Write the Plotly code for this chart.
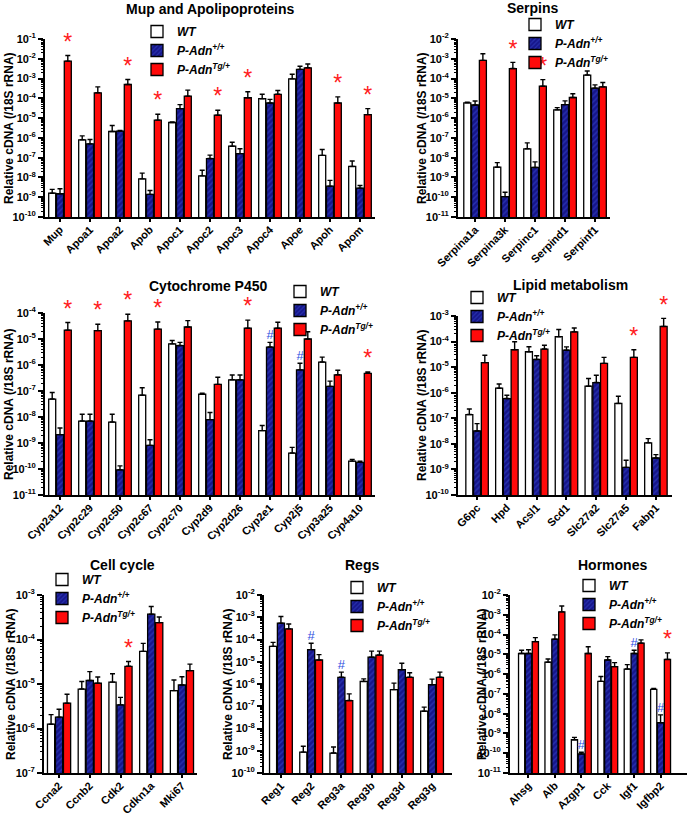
import plotly.graph_objects as go

W, H = 700, 820
FONT = "Liberation Sans, Arial, sans-serif"

# ---------------- data ----------------
series_names = ["<i>WT</i>", "<i>P-Adn<sup>+/+</sup></i>", "<i>P-Adn<sup>Tg/+</sup></i>"]

# Mup and Apolipoproteins
mup_genes = ["Mup", "Apoa1", "Apoa2", "Apob", "Apoc1", "Apoc2", "Apoc3", "Apoc4", "Apoe", "Apoh", "Apom"]
mup_wt = [1.6e-9, 8e-7, 2.1e-6, 8.5e-9, 6e-6, 1.2e-8, 3.8e-7, 9.6e-5, 9.6e-4, 1.3e-7, 3.6e-8]
mup_wt_sem = [0.9e-9, 4.6e-7, 2.1e-6, 8e-9, 0.4e-6, 1.1e-8, 2.2e-7, 6.5e-5, 7e-4, 1.3e-7, 3.2e-8]
mup_padn = [1.5e-9, 5e-7, 2.2e-6, 1.4e-9, 3e-5, 9e-8, 1.6e-7, 5.8e-5, 2.9e-3, 3.6e-9, 2.9e-9]
mup_padn_sem = [1.2e-9, 3.3e-7, 0.2e-6, 0.8e-9, 1.8e-5, 4.5e-8, 1.2e-7, 3.1e-5, 1.3e-3, 3.5e-9, 1e-9]
mup_tg = [7.6e-3, 1.9e-4, 5e-4, 7.9e-6, 1.3e-4, 1.4e-5, 1.07e-4, 1.6e-4, 3.5e-3, 5.8e-5, 1.5e-5]
mup_tg_sem = [7e-3, 1.9e-4, 3.9e-4, 7.9e-6, 1.3e-4, 1.1e-5, 1.1e-4, 0.9e-4, 1.9e-3, 6e-5, 1.5e-5]
mup_star = ["Mup", "Apoa2", "Apob", "Apoc2", "Apoc3", "Apoh", "Apom"]
mup_hash = []

# Serpins
serp_genes = ["Serpina1a", "Serpina3k", "Serpinc1", "Serpind1", "Serpinf1"]
serp_wt = [5.9e-6, 3.3e-9, 2.8e-8, 2.6e-6, 1.5e-4]
serp_wt_sem = [0.5e-6, 2.3e-9, 2.8e-8, 0.8e-6, 0.9e-4]
serp_padn = [4.6e-6, 1.07e-10, 3.2e-9, 4.8e-6, 3.3e-5]
serp_padn_sem = [2.7e-6, 0.7e-10, 2.9e-9, 2.6e-6, 1.5e-5]
serp_tg = [8.3e-4, 3.2e-4, 4.1e-5, 1.1e-5, 3.8e-5]
serp_tg_sem = [9.6e-4, 3.4e-4, 4.7e-5, 0.6e-5, 2.5e-5]
serp_star = ["Serpina3k", "Serpinc1"]
serp_hash = []

# Cytochrome P450
cyp_genes = ["Cyp2a12", "Cyp2c29", "Cyp2c50", "Cyp2c67", "Cyp2c70", "Cyp2d9", "Cyp2d26", "Cyp2e1", "Cyp2j5", "Cyp3a25", "Cyp4a10"]
cyp_wt = [4.9e-8, 7e-9, 6.4e-9, 6.9e-8, 6.5e-6, 7.5e-8, 2.7e-7, 3e-9, 4.1e-10, 1.3e-6, 2e-10]
cyp_wt_sem = [3.8e-8, 5.7e-9, 6.4e-9, 6.4e-8, 2.3e-6, 0.8e-8, 1.4e-7, 1.7e-9, 2.7e-10, 0.7e-6, 0.35e-10]
cyp_padn = [2.1e-9, 7e-9, 9.3e-11, 8.1e-10, 5.6e-6, 7.9e-9, 2.7e-7, 4.9e-6, 6.5e-7, 1.5e-7, 1.8e-10]
cyp_padn_sem = [1.7e-9, 5.7e-9, 3.9e-11, 5.3e-10, 1.8e-6, 6.9e-9, 1.4e-7, 2.5e-6, 5.1e-7, 0.9e-7, 0.2e-10]
cyp_tg = [2.2e-5, 2.1e-5, 5e-5, 2.4e-5, 2.9e-5, 1.8e-7, 2.6e-5, 2.6e-5, 1.0e-5, 4.2e-7, 4.8e-7]
cyp_tg_sem = [2.1e-5, 1.6e-5, 4e-5, 2.1e-5, 2.2e-5, 1.6e-7, 2.7e-5, 1.8e-5, 0.9e-5, 2.1e-7, 0.6e-7]
cyp_star = ["Cyp2a12", "Cyp2c29", "Cyp2c50", "Cyp2c67", "Cyp2d26", "Cyp4a10"]
cyp_hash = ["Cyp2e1", "Cyp2j5"]

# Lipid metabolism
lip_genes = ["G6pc", "Hpd", "Acsl1", "Scd1", "Slc27a2", "Slc27a5", "Fabp1"]
lip_wt = [1.4e-7, 1.5e-6, 4e-5, 1.55e-4, 1.8e-6, 3.8e-7, 1.1e-8]
lip_wt_sem = [0.9e-7, 0.7e-6, 2.3e-5, 1.4e-4, 1.8e-6, 3.5e-7, 0.5e-8]
lip_padn = [3.2e-8, 5.9e-7, 2e-5, 4.6e-5, 2.5e-6, 1.2e-9, 2.8e-9]
lip_padn_sem = [3e-8, 2.1e-7, 0.8e-5, 1.6e-5, 2.3e-6, 1.1e-9, 1e-9]
lip_tg = [1.5e-5, 4.8e-5, 5.1e-5, 2.4e-4, 1.4e-5, 2.4e-5, 3.9e-4]
lip_tg_sem = [1.4e-5, 5e-5, 2.1e-5, 1e-4, 1e-5, 2.4e-5, 4.2e-4]
lip_star = ["Slc27a5", "Fabp1"]
lip_hash = []

# Cell cycle
cc_genes = ["Ccna2", "Ccnb2", "Cdk2", "Cdkn1a", "Mki67"]
cc_wt = [1.25e-6, 7.7e-6, 1.1e-5, 5.4e-5, 7.1e-6]
cc_wt_sem = [0.8e-6, 3.7e-6, 0.6e-5, 2.8e-5, 5.2e-6]
cc_padn = [1.8e-6, 1.2e-5, 3.4e-6, 3.7e-4, 9.5e-6]
cc_padn_sem = [0.9e-6, 0.7e-5, 1.6e-6, 1.8e-4, 5e-6]
cc_tg = [3.7e-6, 1.04e-5, 2.5e-5, 2.4e-4, 2e-5]
cc_tg_sem = [2.2e-6, 0.4e-5, 0.7e-5, 0.8e-4, 0.8e-5]
cc_star = ["Cdk2"]
cc_hash = []

# Regs
reg_genes = ["Reg1", "Reg2", "Reg3a", "Reg3b", "Reg3d", "Reg3g"]
reg_wt = [4.9e-5, 8.7e-10, 7.9e-10, 1.3e-6, 5.6e-7, 6e-8]
reg_wt_sem = [2.5e-5, 7.3e-10, 6.9e-10, 0.4e-6, 5.3e-7, 3.1e-8]
reg_padn = [5.4e-4, 3.5e-5, 2e-6, 1.6e-5, 4.4e-6, 9.3e-7]
reg_padn_sem = [5.4e-4, 3.3e-5, 1.4e-6, 1.4e-5, 4.2e-6, 7.3e-7]
reg_tg = [3e-4, 1.2e-5, 1.8e-7, 2e-5, 2e-6, 2e-6]
reg_tg_sem = [2e-4, 0.9e-5, 1.8e-7, 1e-5, 1.2e-6, 1.4e-6]
reg_star = []
reg_hash = ["Reg2", "Reg3a"]

# Hormones
hor_genes = ["Ahsg", "Alb", "Azgp1", "Cck", "Igf1", "Igfbp2"]
hor_wt = [1.1e-5, 4e-6, 4.8e-10, 4.3e-7, 1.8e-6, 1.7e-7]
hor_wt_sem = [0.5e-5, 1.8e-6, 1.5e-10, 3.3e-7, 1.2e-6, 0.2e-7]
hor_padn = [1.1e-5, 5.8e-5, 9.2e-11, 5.2e-6, 1.1e-5, 3.5e-9]
hor_padn_sem = [0.6e-5, 3.8e-5, 2e-11, 2.5e-6, 0.5e-5, 5.2e-9]
hor_tg = [4.4e-5, 1.4e-3, 1.1e-5, 2.4e-6, 3.7e-5, 5.5e-6]
hor_tg_sem = [2.6e-5, 1.4e-3, 1.3e-5, 1.4e-6, 1.7e-5, 6.3e-6]
hor_star = ["Igfbp2"]
hor_hash = ["Azgp1", "Igf1", "Igfbp2"]

# ---------------- layout geometry (window pixels) ----------------
panels = [
    dict(title="Mup and Apolipoproteins", genes=mup_genes,
         vals=[(mup_wt, mup_wt_sem), (mup_padn, mup_padn_sem), (mup_tg, mup_tg_sem)],
         star=mup_star, hash=mup_hash,
         xdom=(45, 375), ydom=(39, 217), yr=(-10, -1), xr=(-0.5, 10.5),
         leg=(137, 17), ttl=(210, 9), ytl=(9, 128)),
    dict(title="Serpins", genes=serp_genes,
         vals=[(serp_wt, serp_wt_sem), (serp_padn, serp_padn_sem), (serp_tg, serp_tg_sem)],
         star=serp_star, hash=serp_hash,
         xdom=(458, 610), ydom=(39, 217), yr=(-11, -2), xr=(-0.57, 4.5),
         leg=(515, 10), ttl=(533, 8), ytl=(422, 128)),
    dict(title="Cytochrome P450", genes=cyp_genes,
         vals=[(cyp_wt, cyp_wt_sem), (cyp_padn, cyp_padn_sem), (cyp_tg, cyp_tg_sem)],
         star=cyp_star, hash=cyp_hash,
         xdom=(45, 375), ydom=(313, 495), yr=(-11, -4), xr=(-0.5, 10.5),
         leg=(280, 277), ttl=(208, 286), ytl=(9, 404)),
    dict(title="Lipid metabolism", genes=lip_genes,
         vals=[(lip_wt, lip_wt_sem), (lip_padn, lip_padn_sem), (lip_tg, lip_tg_sem)],
         star=lip_star, hash=lip_hash,
         xdom=(458, 672), ydom=(316, 495), yr=(-10, -3), xr=(-0.64, 6.54),
         leg=(457, 283), ttl=(570, 285), ytl=(422, 405)),
    dict(title="Cell cycle", genes=cc_genes,
         vals=[(cc_wt, cc_wt_sem), (cc_padn, cc_padn_sem), (cc_tg, cc_tg_sem)],
         star=cc_star, hash=cc_hash,
         xdom=(44, 197), ydom=(595, 773), yr=(-7, -3), xr=(-0.49, 4.49),
         leg=(42, 565), ttl=(122, 565), ytl=(11, 684)),
    dict(title="Regs", genes=reg_genes,
         vals=[(reg_wt, reg_wt_sem), (reg_padn, reg_padn_sem), (reg_tg, reg_tg_sem)],
         star=reg_star, hash=reg_hash,
         xdom=(264, 452), ydom=(595, 773), yr=(-10, -2), xr=(-0.56, 5.66),
         leg=(337, 573), ttl=(362, 565), ytl=(228, 684)),
    dict(title="Hormones", genes=hor_genes,
         vals=[(hor_wt, hor_wt_sem), (hor_padn, hor_padn_sem), (hor_tg, hor_tg_sem)],
         star=hor_star, hash=hor_hash,
         xdom=(510, 687), ydom=(595, 773), yr=(-11, -2), xr=(-0.7, 6.0),
         leg=(569, 571), ttl=(612, 565), ytl=(482, 684)),
]


def fx(px):
    return px / W


def fy(py):
    return 1 - py / H


BLUE_BG = "#16168a"
BLUE_FG = "#3a4ed6"
RED = "#ff0a0a"
styles = [
    dict(color="white", line=dict(color="black", width=1.3)),
    dict(color=BLUE_BG, line=dict(color="black", width=1.3),
         pattern=dict(shape="/", bgcolor=BLUE_BG, fgcolor=BLUE_FG, size=4, solidity=0.35)),
    dict(color=RED, line=dict(color="black", width=1.3)),
]
offsets = [-0.26, 0.0, 0.26]

fig = go.Figure()
annotations = []
layout_upd = {}

for k, p in enumerate(panels, start=1):
    sfx = "" if k == 1 else str(k)
    xa, ya = "x" + sfx, "y" + sfx
    leg = "legend" + sfx
    genes = p["genes"]
    n = len(genes)
    xs = list(range(n))
    for s, ((vals, sems), st) in enumerate(zip(p["vals"], styles)):
        fig.add_trace(go.Bar(
            x=xs, y=vals, name=series_names[s], marker=st,
            offsetgroup=str(s), legend=leg, xaxis=xa, yaxis=ya,
            error_y=dict(type="data", array=sems, arrayminus=[0] * n, symmetric=False,
                         color="black", thickness=1.4, width=2.5),
        ))
    pa_v, pa_s = p["vals"][1]
    tg_v, tg_s = p["vals"][2]
    if p["star"]:
        idx = [genes.index(g) for g in p["star"]]
        fig.add_trace(go.Scatter(
            x=[i + offsets[2] for i in idx], y=[tg_v[i] + tg_s[i] for i in idx],
            mode="text", text=["*"] * len(idx), textposition="top center",
            textfont=dict(family=FONT, size=23, color="#ff2020"),
            showlegend=False, hoverinfo="skip", cliponaxis=False, xaxis=xa, yaxis=ya))
    if p["hash"]:
        idx = [genes.index(g) for g in p["hash"]]
        fig.add_trace(go.Scatter(
            x=[i + offsets[1] for i in idx], y=[pa_v[i] + pa_s[i] for i in idx],
            mode="text", text=["#"] * len(idx), textposition="top center",
            textfont=dict(family=FONT, size=13, color="#2f4fe0"),
            showlegend=False, hoverinfo="skip", cliponaxis=False, xaxis=xa, yaxis=ya))

    lo, hi = p["yr"]
    major = [10.0 ** e for e in range(lo, hi + 1)]
    minor = [m * 10.0 ** e for e in range(lo, hi) for m in range(2, 10)]
    layout_upd["xaxis" + sfx] = dict(
        domain=[fx(p["xdom"][0]), fx(p["xdom"][1])], anchor=ya,
        range=list(p["xr"]), tickmode="array", tickvals=xs, ticktext=genes,
        tickangle=-45, tickfont=dict(family=FONT, size=11, color="black", weight="bold"),
        ticklabelstandoff=-3,
        showline=True, linecolor="black", linewidth=2, ticks="outside", ticklen=3,
        tickwidth=1.5, tickcolor="black", showgrid=False, zeroline=False, automargin=False)
    layout_upd["yaxis" + sfx] = dict(
        domain=[fy(p["ydom"][1]), fy(p["ydom"][0])], anchor=xa,
        type="log", range=[lo, hi], tickmode="array", tickvals=major,
        ticktext=[f"10<sup>{e}</sup>" for e in range(lo, hi + 1)],
        tickfont=dict(family=FONT, size=11, color="black", weight="bold"),
        showline=True, linecolor="black", linewidth=2, ticks="outside", ticklen=5,
        tickwidth=1.5, tickcolor="black", showgrid=False, zeroline=False, automargin=False,
        minor=dict(tickmode="array", tickvals=minor, ticks="outside", ticklen=2,
                   tickwidth=1, tickcolor="black", showgrid=False))
    layout_upd[leg] = dict(
        x=fx(p["leg"][0]), y=fy(p["leg"][1]), xanchor="left", yanchor="top",
        bgcolor="rgba(0,0,0,0)", borderwidth=0, tracegroupgap=0, itemwidth=30,
        font=dict(family=FONT, size=12, color="black", weight="bold"))
    annotations.append(dict(
        text=p["title"], x=fx(p["ttl"][0]), y=fy(p["ttl"][1]), xref="paper", yref="paper",
        xanchor="center", yanchor="middle", showarrow=False,
        font=dict(family=FONT, size=14, color="black", weight="bold")))
    annotations.append(dict(
        text="Relative cDNA (/18S rRNA)", x=fx(p["ytl"][0]), y=fy(p["ytl"][1]),
        xref="paper", yref="paper", xanchor="center", yanchor="middle", textangle=-90,
        showarrow=False, font=dict(family=FONT, size=12, color="black", weight="bold")))

fig.update_layout(
    width=W, height=H, margin=dict(l=0, r=0, t=0, b=0),
    paper_bgcolor="white", plot_bgcolor="white",
    barmode="group", bargap=0.22, bargroupgap=0.1,
    annotations=annotations, font=dict(family=FONT, color="black"),
    **layout_upd)

# remove the default page margin so the figure sits at the window's top-left corner
fig.write_html("out.html", config={"displayModeBar": False},
               post_script="document.body.style.margin='0px';")
